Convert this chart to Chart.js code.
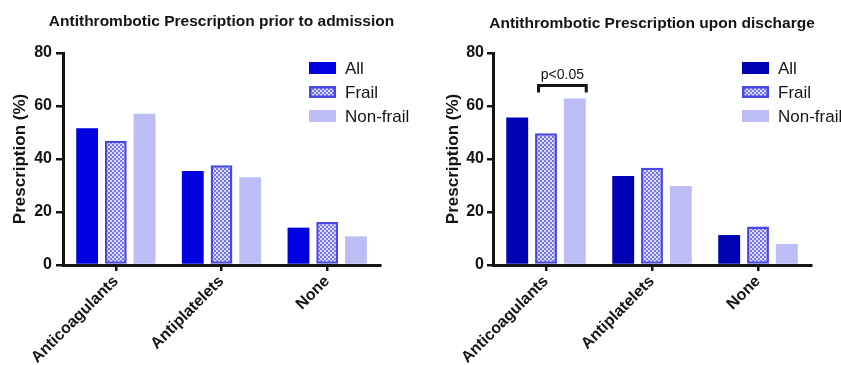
<!DOCTYPE html>
<html>
<head>
<meta charset="utf-8">
<script src="https://cdn.jsdelivr.net/npm/chart.js@4.4.1/dist/chart.umd.min.js"></script>
<style>
  html, body { margin: 0; padding: 0; background: #ffffff; }
  #wrap { position: relative; width: 841px; height: 365px; overflow: hidden; }
  canvas { position: absolute; top: 0; }
  #left { left: 0; }
  #right { left: 420px; }
</style>
</head>
<body>
<div id="wrap">
  <canvas id="left" width="420" height="365"></canvas>
  <canvas id="right" width="421" height="365"></canvas>
</div>
<script>
// Categories, series and values (% of patients)
const categories = ['Anticoagulants', 'Antiplatelets', 'None'];
const seriesNames = ['All', 'Frail', 'Non-frail'];
const yTicks = [0, 20, 40, 60, 80];

const admissionAll = [51.6, 35.5, 14.1];
const admissionFrail = [46.9, 37.6, 16.2];
const admissionNonFrail = [57.1, 33.1, 10.8];

const dischargeAll = [55.7, 33.6, 11.3];
const dischargeFrail = [49.7, 36.7, 14.5];
const dischargeNonFrail = [62.8, 29.8, 7.9];

const titles = ['Antithrombotic Prescription prior to admission', 'Antithrombotic Prescription upon discharge'];
const yTitle = 'Prescription (%)';
const significance = 'p<0.05';

const FONT = '"Liberation Sans", Arial, sans-serif';
const INK = '#141414';

// small checkerboard fill used for the "Frail" bars
function checker(ctx, a, b, s) {
  const cv = document.createElement('canvas');
  cv.width = cv.height = 2 * s;
  const g = cv.getContext('2d');
  g.fillStyle = a; g.fillRect(0, 0, 2 * s, 2 * s);
  g.fillStyle = b; g.fillRect(0, 0, s, s); g.fillRect(s, s, s, s);
  return ctx.createPattern(cv, 'repeat');
}

// Title centred over the plot area
const titlePlugin = {
  id: 'panelTitle',
  afterDraw(chart, args, opts) {
    const { ctx, chartArea } = chart;
    ctx.save();
    ctx.font = 'bold 15.5px ' + FONT;
    ctx.fillStyle = INK;
    ctx.textAlign = 'center';
    ctx.textBaseline = 'middle';
    ctx.fillText(opts.text, (chartArea.left + chartArea.right) / 2, opts.y);
    ctx.restore();
  }
};

// Legend drawn inside the plot area, top right
const legendPlugin = {
  id: 'boxLegend',
  afterDraw(chart, args, opts) {
    const { ctx } = chart;
    ctx.save();
    chart.data.datasets.forEach((ds, i) => {
      const cy = opts.y + i * opts.gap;
      const top = cy - opts.h / 2;
      ctx.fillStyle = ds.backgroundColor;
      ctx.fillRect(opts.x, top, opts.w, opts.h);
      if (ds.borderWidth) {
        ctx.strokeStyle = ds.borderColor;
        ctx.lineWidth = ds.borderWidth;
        ctx.strokeRect(opts.x + ds.borderWidth / 2, top + ds.borderWidth / 2,
                       opts.w - ds.borderWidth, opts.h - ds.borderWidth);
      }
      ctx.fillStyle = INK;
      ctx.font = '17px ' + FONT;
      ctx.textBaseline = 'middle';
      ctx.textAlign = 'left';
      ctx.fillText(ds.label, opts.x + opts.w + 9, cy + 1);
    });
    ctx.restore();
  }
};

// Significance bracket between Frail and Non-frail in the first category
const bracketPlugin = {
  id: 'sigBracket',
  afterDatasetsDraw(chart, args, opts) {
    if (!opts.show) return;
    const { ctx } = chart;
    const yScale = chart.scales.y;
    const a = chart.getDatasetMeta(1).data[0];
    const b = chart.getDatasetMeta(2).data[0];
    const x1 = a.x - a.width / 2 + 2;
    const x2 = b.x + b.width / 2 + 2;
    const top = Math.max(chart.data.datasets[1].data[0], chart.data.datasets[2].data[0]);
    const yb = yScale.getPixelForValue(top) - 13;
    ctx.save();
    ctx.strokeStyle = INK;
    ctx.lineWidth = 3;
    ctx.lineJoin = 'miter';
    ctx.beginPath();
    ctx.moveTo(x1 + 1.5, yb + 7);
    ctx.lineTo(x1 + 1.5, yb);
    ctx.lineTo(x2 - 1.5, yb);
    ctx.lineTo(x2 - 1.5, yb + 7);
    ctx.stroke();
    ctx.fillStyle = INK;
    ctx.font = '14px ' + FONT;
    ctx.textAlign = 'center';
    ctx.textBaseline = 'middle';
    ctx.fillText(opts.text, (x1 + x2) / 2, yb - 10);
    ctx.restore();
  }
};

function makeChart(id, cfg) {
  const canvas = document.getElementById(id);
  const ctx = canvas.getContext('2d');
  const frailFill = checker(ctx, '#dcdcfd', '#7676ea', 2);
  const datasets = [
    { label: seriesNames[0], data: cfg.all, backgroundColor: cfg.allColor, borderWidth: 0 },
    { label: seriesNames[1], data: cfg.frail, backgroundColor: frailFill, borderColor: '#4848e6', borderWidth: 2.5, borderSkipped: false },
    { label: seriesNames[2], data: cfg.nonFrail, backgroundColor: '#bcbcf7', borderWidth: 0 }
  ];
  return new Chart(ctx, {
    type: 'bar',
    data: { labels: categories, datasets },
    options: {
      responsive: false,
      animation: false,
      devicePixelRatio: 1,
      layout: { padding: { left: 0, top: 53, right: cfg.padRight, bottom: 0 } },
      datasets: { bar: { categoryPercentage: 0.815, barPercentage: 0.76 } },
      plugins: {
        legend: { display: false },
        title: { display: false },
        tooltip: { enabled: false },
        panelTitle: { text: cfg.title, y: cfg.titleY },
        boxLegend: { x: cfg.legendX, y: 68, gap: 24, w: 27, h: 12 },
        sigBracket: { show: !!cfg.bracket, text: significance }
      },
      scales: {
        x: {
          offset: true,
          grid: { display: true, drawOnChartArea: false, drawTicks: true, offset: false, tickLength: 6, color: INK, lineWidth: 2.5 },
          border: { display: true, color: INK, width: 3 },
          ticks: {
            autoSkip: false, minRotation: 45, maxRotation: 45, padding: 1,
            color: INK, font: { family: FONT, size: 16, weight: 'bold' }
          },
          afterFit(scale) { scale.height = 100; }
        },
        y: {
          min: 0, max: 80,
          afterBuildTicks(scale) { scale.ticks = yTicks.map(v => ({ value: v })); },
          grid: { display: true, drawOnChartArea: false, drawTicks: true, tickLength: cfg.tickLen, color: INK, lineWidth: 2.5 },
          border: { display: true, color: INK, width: 3 },
          ticks: { padding: cfg.tickPad, color: INK, font: { family: FONT, size: 16, weight: 'bold' } },
          title: {
            display: true, text: yTitle, color: INK,
            font: { family: FONT, size: 17, weight: 'bold' },
            padding: { top: cfg.titlePad, bottom: 0 }
          },
          afterFit(scale) { scale.width = cfg.axisWidth; }
        }
      }
    },
    plugins: [titlePlugin, legendPlugin, bracketPlugin]
  });
}

makeChart('left', {
  title: titles[0], titleY: 22,
  all: admissionAll, frail: admissionFrail, nonFrail: admissionNonFrail,
  allColor: '#0000e0',
  padRight: 40, axisWidth: 63, tickLen: 7, tickPad: 4, titlePad: 10,
  legendX: 309
});

makeChart('right', {
  title: titles[1], titleY: 24,
  all: dischargeAll, frail: dischargeFrail, nonFrail: dischargeNonFrail,
  allColor: '#0000b4',
  padRight: 30, axisWidth: 73, tickLen: 6, tickPad: 3, titlePad: 23,
  legendX: 322, bracket: true
});
</script>
</body>
</html>
